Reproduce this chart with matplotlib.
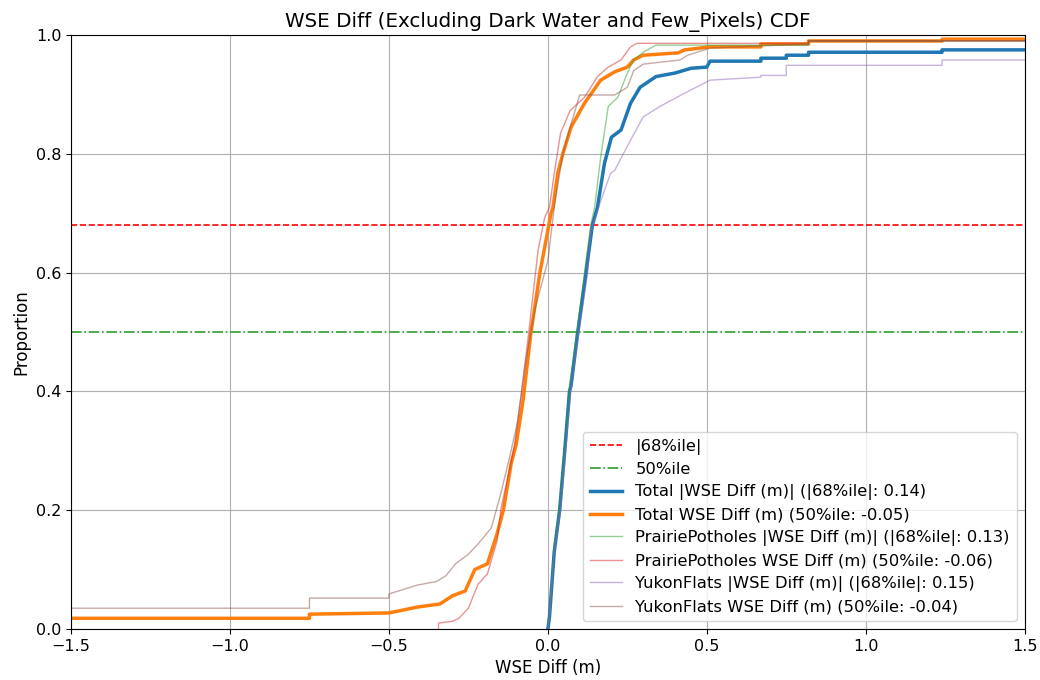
import numpy as np
import matplotlib
matplotlib.use('Agg')
from matplotlib import pyplot as plt

## CDF curves (x = WSE diff in m, y = proportion)
# Total |WSE Diff (m)|
total_abs_x = [0.0, 0.005, 0.02, 0.037, 0.053, 0.068, 0.073, 0.094, 0.12, 0.14, 0.156,
               0.178, 0.20, 0.23, 0.26, 0.29, 0.34, 0.40, 0.45, 0.50, 0.51, 0.67, 0.67,
               0.75, 0.75, 0.82, 0.82, 1.24, 1.24, 1.5]
total_abs_y = [0.0, 0.02, 0.13, 0.20, 0.30, 0.40, 0.41, 0.50, 0.60, 0.68, 0.71,
               0.784, 0.828, 0.84, 0.885, 0.912, 0.93, 0.936, 0.944, 0.946, 0.956, 0.956, 0.961,
               0.961, 0.966, 0.966, 0.971, 0.971, 0.975, 0.975]

# Total WSE Diff (m)
total_x = [-1.5, -0.75, -0.75, -0.5, -0.41, -0.34, -0.30, -0.26, -0.23, -0.19, -0.16,
           -0.14, -0.115, -0.10, -0.078, -0.053, -0.025, -0.006, 0.01, 0.016, 0.031,
           0.047, 0.073, 0.115, 0.166, 0.21, 0.25, 0.27, 0.30, 0.41, 0.43, 0.51,
           0.67, 0.67, 0.82, 0.82, 1.24, 1.24, 1.5]
total_y = [0.018, 0.018, 0.025, 0.027, 0.037, 0.042, 0.056, 0.064, 0.10, 0.11, 0.16,
           0.20, 0.28, 0.31, 0.385, 0.50, 0.60, 0.654, 0.70, 0.71, 0.767,
           0.80, 0.845, 0.885, 0.924, 0.938, 0.946, 0.958, 0.966, 0.970, 0.975, 0.980,
           0.980, 0.985, 0.985, 0.990, 0.990, 0.993, 0.993]

# PrairiePotholes |WSE Diff (m)|
pp_abs_x = [0.0, 0.005, 0.02, 0.037, 0.053, 0.068, 0.094, 0.12, 0.135, 0.147, 0.166,
            0.19, 0.22, 0.25, 0.27, 0.30, 0.34, 0.82, 0.82, 1.5]
pp_abs_y = [0.0, 0.02, 0.14, 0.21, 0.31, 0.41, 0.51, 0.62, 0.68, 0.71, 0.794,
            0.88, 0.895, 0.936, 0.958, 0.971, 0.983, 0.983, 0.99, 0.99]

# PrairiePotholes WSE Diff (m)
pp_x = [-0.344, -0.344, -0.30, -0.28, -0.25, -0.22, -0.19, -0.16, -0.147, -0.12,
        -0.105, -0.085, -0.06, -0.031, -0.01, 0.005, 0.02, 0.04, 0.07, 0.115, 0.156,
        0.19, 0.23, 0.26, 0.28, 0.82, 0.82, 1.5]
pp_y = [0.0, 0.01, 0.013, 0.018, 0.035, 0.075, 0.093, 0.148, 0.204, 0.27,
        0.31, 0.39, 0.50, 0.637, 0.693, 0.71, 0.767, 0.835, 0.873, 0.895, 0.93,
        0.946, 0.958, 0.98, 0.986, 0.986, 0.99, 0.99]

# YukonFlats |WSE Diff (m)|
yf_abs_x = [0.0, 0.005, 0.02, 0.04, 0.056, 0.072, 0.098, 0.125, 0.135, 0.156, 0.197,
            0.21, 0.26, 0.30, 0.35, 0.43, 0.51, 0.67, 0.67, 0.75, 0.75, 1.24, 1.24, 1.5]
yf_abs_y = [0.0, 0.02, 0.13, 0.20, 0.30, 0.40, 0.50, 0.60, 0.67, 0.705, 0.767,
            0.772, 0.823, 0.862, 0.879, 0.902, 0.924, 0.929, 0.932, 0.932, 0.949, 0.949, 0.958, 0.958]

# YukonFlats WSE Diff (m)
yf_x = [-1.5, -0.75, -0.75, -0.5, -0.5, -0.47, -0.41, -0.35, -0.32, -0.29, -0.25,
        -0.22, -0.178, -0.15, -0.12, -0.095, -0.07, -0.04, 0.0, 0.02, 0.047, 0.073,
        0.10, 0.21, 0.25, 0.27, 0.30, 0.415, 0.44, 0.51, 0.82, 0.82, 1.5]
yf_y = [0.035, 0.035, 0.052, 0.052, 0.059, 0.064, 0.074, 0.08, 0.09, 0.11, 0.126,
        0.143, 0.17, 0.224, 0.29, 0.35, 0.45, 0.54, 0.62, 0.71, 0.80, 0.85,
        0.899, 0.899, 0.912, 0.94, 0.951, 0.958, 0.966, 0.978, 0.985, 0.99, 0.99]

p68 = 0.68
p50 = 0.5

fig = plt.figure(figsize=(10.4, 6.8), dpi=100)
ax = fig.add_axes([0.0683, 0.075, 0.917, 0.8735])

ax.axhline(p68, color='red', linestyle='--', linewidth=1.2, label='|68%ile|')
ax.axhline(p50, color='tab:green', linestyle='-.', linewidth=1.2, label='50%ile')

ax.plot(total_abs_x, total_abs_y, color='tab:blue', linewidth=2.5,
        label='Total |WSE Diff (m)| (|68%ile|: 0.14)')
ax.plot(total_x, total_y, color='tab:orange', linewidth=2.5,
        label='Total WSE Diff (m) (50%ile: -0.05)')
ax.plot(pp_abs_x, pp_abs_y, color='tab:green', linewidth=1, alpha=0.5,
        label='PrairiePotholes |WSE Diff (m)| (|68%ile|: 0.13)')
ax.plot(pp_x, pp_y, color='tab:red', linewidth=1, alpha=0.5,
        label='PrairiePotholes WSE Diff (m) (50%ile: -0.06)')
ax.plot(yf_abs_x, yf_abs_y, color='tab:purple', linewidth=1, alpha=0.5,
        label='YukonFlats |WSE Diff (m)| (|68%ile|: 0.15)')
ax.plot(yf_x, yf_y, color='tab:brown', linewidth=1, alpha=0.5,
        label='YukonFlats WSE Diff (m) (50%ile: -0.04)')

ax.set_xlim(-1.5, 1.5)
ax.set_ylim(0, 1)
ax.set_xticks(np.arange(-1.5, 1.51, 0.5))
ax.grid(True)
ax.tick_params(labelsize=11.5)
ax.set_xlabel('WSE Diff (m)', fontsize=12)
ax.set_ylabel('Proportion', fontsize=12)
ax.set_title('WSE Diff (Excluding Dark Water and Few_Pixels) CDF', fontsize=14.3)
ax.legend(loc='lower right', fontsize=11.8, labelspacing=0.45)

fig.savefig('out.png', dpi=100)
